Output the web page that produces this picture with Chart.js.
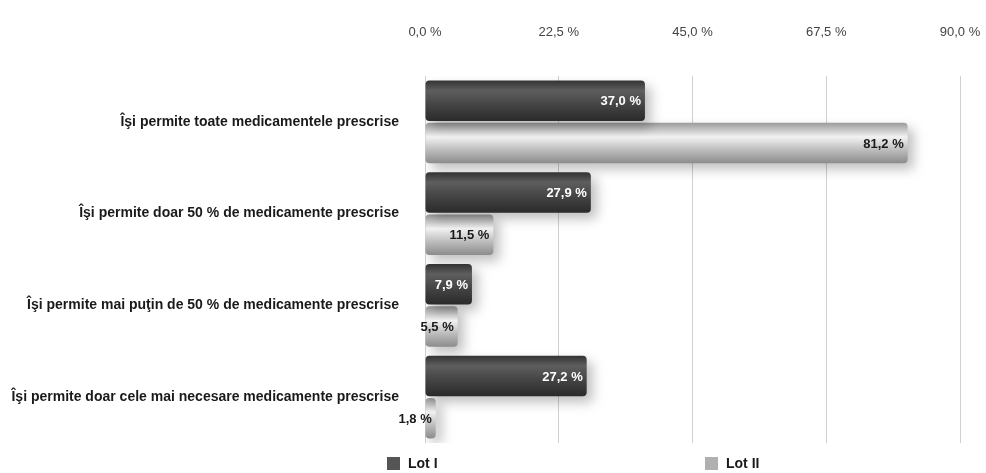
<!DOCTYPE html>
<html>
<head>
<meta charset="utf-8">
<script src="https://cdn.jsdelivr.net/npm/chart.js@4.4.1/dist/chart.umd.min.js"></script>
<style>
  html, body { margin: 0; padding: 0; background: #fff; }
  #wrap { width: 986px; height: 473px; }
</style>
</head>
<body>
<div id="wrap"><canvas id="chart"></canvas></div>
<script>
const categories = [
  "Îşi permite toate medicamentele prescrise",
  "Îşi permite doar 50 % de medicamente prescrise",
  "Îşi permite mai puţin de 50 % de medicamente prescrise",
  "Îşi permite doar cele mai necesare medicamente prescrise"
];
const seriesNames = ["Lot I", "Lot II"];
const lot1 = [37.0, 27.9, 7.9, 27.2];
const lot2 = [81.2, 11.5, 5.5, 1.8];
const tickValues = [0, 22.5, 45, 67.5, 90];

const FONT = '"Liberation Sans", Arial, sans-serif';
const baseColors = ["#4a4a4a", "#b2b2b2"];

function pct(v) {
  return v.toFixed(1).replace('.', ',') + ' %';
}

// cylinder-like shading for each bar + soft drop shadow
const shading = {
  id: 'shading',
  beforeDatasetsDraw(chart) {
    const ctx = chart.ctx;
    chart.data.datasets.forEach((ds, i) => {
      chart.getDatasetMeta(i).data.forEach(bar => {
        const top = bar.y - bar.height / 2;
        const bottom = bar.y + bar.height / 2;
        const g = ctx.createLinearGradient(0, top, 0, bottom);
        if (i === 0) {
          g.addColorStop(0, '#333333');
          g.addColorStop(0.25, '#5e5e5e');
          g.addColorStop(0.6, '#444444');
          g.addColorStop(1, '#2a2a2a');
        } else {
          g.addColorStop(0, '#9a9a9a');
          g.addColorStop(0.35, '#f2f2f2');
          g.addColorStop(0.7, '#b8b8b8');
          g.addColorStop(1, '#8c8c8c');
        }
        bar.options.backgroundColor = g;
      });
    });
    ctx.save();
    ctx.shadowColor = 'rgba(0,0,0,0.25)';
    ctx.shadowBlur = 12;
    ctx.shadowOffsetX = 6;
    ctx.shadowOffsetY = 6;
  },
  afterDatasetsDraw(chart) {
    const ctx = chart.ctx;
    ctx.restore();
    ctx.save();
    ctx.font = 'bold 13px ' + FONT;
    ctx.textAlign = 'right';
    ctx.textBaseline = 'middle';
    chart.data.datasets.forEach((ds, i) => {
      ctx.fillStyle = i === 0 ? '#ffffff' : '#1a1a1a';
      chart.getDatasetMeta(i).data.forEach((bar, j) => {
        ctx.fillText(pct(ds.data[j]), bar.x - 4, bar.y + 1);
      });
    });
    ctx.restore();
  },
  afterDraw(chart) {
    const ctx = chart.ctx;
    const y = chart.height - 10;
    const xs = [387, 705];
    ctx.save();
    ctx.font = 'bold 14px ' + FONT;
    ctx.textBaseline = 'middle';
    ctx.textAlign = 'left';
    chart.data.datasets.forEach((ds, i) => {
      ctx.fillStyle = i === 0 ? '#555555' : '#b0b0b0';
      ctx.fillRect(xs[i], y - 6, 13, 13);
      ctx.fillStyle = '#1a1a1a';
      ctx.fillText(ds.label, xs[i] + 21, y + 1);
    });
    ctx.restore();
  }
};

new Chart(document.getElementById('chart'), {
  type: 'bar',
  data: {
    labels: categories,
    datasets: [
      { label: seriesNames[0], data: lot1, backgroundColor: () => baseColors[0] },
      { label: seriesNames[1], data: lot2, backgroundColor: () => baseColors[1] }
    ]
  },
  options: {
    indexAxis: 'y',
    responsive: true,
    maintainAspectRatio: false,
    animation: false,
    layout: { padding: { top: 20, right: 26, bottom: 30, left: 8 } },
    datasets: {
      bar: { categoryPercentage: 0.92, barPercentage: 0.96, borderRadius: 4, borderSkipped: false }
    },
    scales: {
      x: {
        position: 'top',
        min: 0,
        max: 90,
        afterBuildTicks: axis => { axis.ticks = tickValues.map(v => ({ value: v })); },
        afterFit: axis => {
          axis.height = 56;
          axis.paddingLeft = 0;
          axis.paddingRight = 0;
        },
        ticks: {
          callback: v => pct(v),
          color: '#444',
          padding: 36,
          font: { family: FONT, size: 13 }
        },
        grid: { color: '#d0d0d0', drawTicks: false },
        border: { display: false }
      },
      y: {
        afterFit: axis => { axis.width = 417; },
        ticks: {
          color: '#1a1a1a',
          padding: 18,
          font: { family: FONT, size: 14, weight: 'bold' }
        },
        grid: { display: false },
        border: { display: false }
      }
    },
    plugins: {
      legend: { display: false },
      tooltip: { enabled: false }
    }
  },
  plugins: [shading]
});
</script>
</body>
</html>
